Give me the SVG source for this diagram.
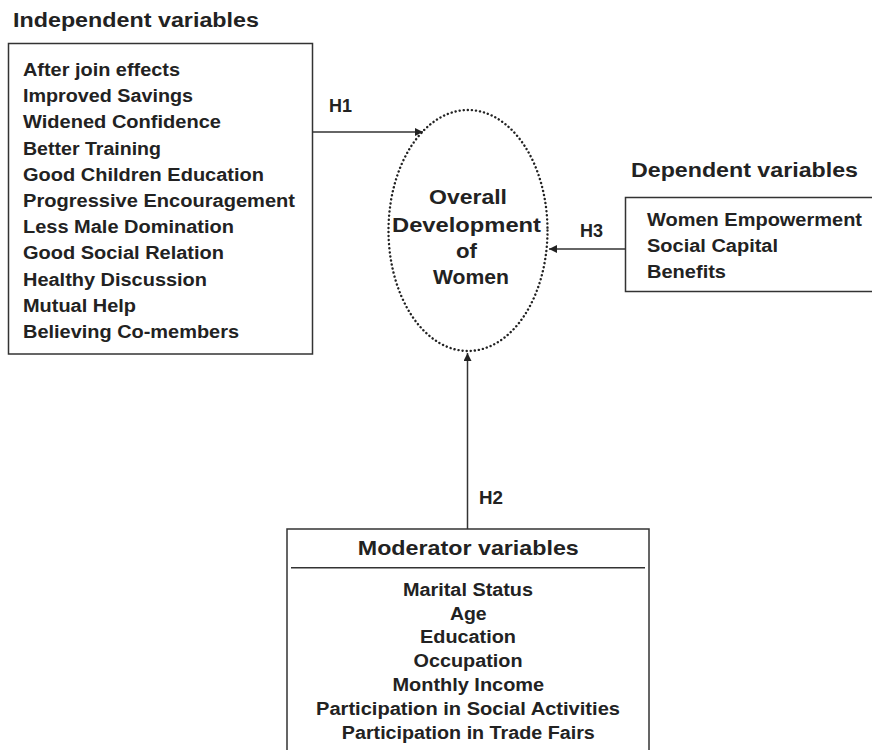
<svg xmlns="http://www.w3.org/2000/svg" width="872" height="750" viewBox="0 0 872 750">
<defs>
<style>
text{font-family:"Liberation Sans",Arial,sans-serif;font-weight:bold;fill:#222}
.t{font-size:19.5px}
.i{font-size:18px}
.c{font-size:21px;text-anchor:middle}
.m{font-size:18px;text-anchor:middle}
.box{fill:#fff;stroke:#333;stroke-width:1.5}
.ln{stroke:#333;stroke-width:1.5;fill:none}
</style>
<marker id="ah" viewBox="0 0 10 10" refX="10" refY="5" markerWidth="8" markerHeight="8" orient="auto" markerUnits="userSpaceOnUse">
<path d="M0,0 L10,5 L0,10 z" fill="#222"/>
</marker>
</defs>
<rect width="872" height="750" fill="#fff"/>
<g id="independent">
<text class="t" x="13" y="27" textLength="246" lengthAdjust="spacingAndGlyphs">Independent variables</text>
<rect class="box" x="8.5" y="43.5" width="304" height="310.5"/>
<text class="i" x="23" y="76" textLength="157" lengthAdjust="spacingAndGlyphs">After join effects</text>
<text class="i" x="23" y="102.2" textLength="170" lengthAdjust="spacingAndGlyphs">Improved Savings</text>
<text class="i" x="23" y="128.4" textLength="198" lengthAdjust="spacingAndGlyphs">Widened Confidence</text>
<text class="i" x="23" y="154.6" textLength="138" lengthAdjust="spacingAndGlyphs">Better Training</text>
<text class="i" x="23" y="180.8" textLength="241" lengthAdjust="spacingAndGlyphs">Good Children Education</text>
<text class="i" x="23" y="207" textLength="272" lengthAdjust="spacingAndGlyphs">Progressive Encouragement</text>
<text class="i" x="23" y="233.2" textLength="211" lengthAdjust="spacingAndGlyphs">Less Male Domination</text>
<text class="i" x="23" y="259.4" textLength="201" lengthAdjust="spacingAndGlyphs">Good Social Relation</text>
<text class="i" x="23" y="285.6" textLength="184" lengthAdjust="spacingAndGlyphs">Healthy Discussion</text>
<text class="i" x="23" y="311.8" textLength="113" lengthAdjust="spacingAndGlyphs">Mutual Help</text>
<text class="i" x="23" y="338" textLength="216" lengthAdjust="spacingAndGlyphs">Believing Co-members</text>
</g>
<g id="center">
<ellipse cx="468" cy="230.5" rx="79.5" ry="120.5" fill="none" stroke="#222" stroke-width="2.4" stroke-dasharray="0.1 4" stroke-linecap="round"/>
<text class="c" x="468" y="204" textLength="78" lengthAdjust="spacingAndGlyphs">Overall</text>
<text class="c" x="466.5" y="231.5" textLength="149" lengthAdjust="spacingAndGlyphs">Development</text>
<text class="c" x="466.5" y="258" textLength="21" lengthAdjust="spacingAndGlyphs">of</text>
<text class="c" x="471" y="284" textLength="76" lengthAdjust="spacingAndGlyphs">Women</text>
</g>
<g id="dependent">
<text class="t" x="631" y="177" textLength="227" lengthAdjust="spacingAndGlyphs">Dependent variables</text>
<rect class="box" x="625.5" y="197.5" width="250" height="94"/>
<text class="i" x="647" y="226" textLength="215" lengthAdjust="spacingAndGlyphs">Women Empowerment</text>
<text class="i" x="647" y="251.7" textLength="131" lengthAdjust="spacingAndGlyphs">Social Capital</text>
<text class="i" x="647" y="277.5" textLength="79" lengthAdjust="spacingAndGlyphs">Benefits</text>
</g>
<g id="moderator">
<rect class="box" x="287" y="529" width="362" height="225"/>
<text class="t" x="468.3" y="555" style="text-anchor:middle;font-size:21px" textLength="221" lengthAdjust="spacingAndGlyphs">Moderator variables</text>
<line class="ln" x1="291" y1="567.7" x2="645" y2="567.7"/>
<text class="m" x="468" y="596" textLength="130" lengthAdjust="spacingAndGlyphs">Marital Status</text>
<text class="m" x="468.3" y="620" textLength="36.7" lengthAdjust="spacingAndGlyphs">Age</text>
<text class="m" x="468" y="643" textLength="96" lengthAdjust="spacingAndGlyphs">Education</text>
<text class="m" x="468" y="667" textLength="109" lengthAdjust="spacingAndGlyphs">Occupation</text>
<text class="m" x="468.3" y="691" textLength="151.7" lengthAdjust="spacingAndGlyphs">Monthly Income</text>
<text class="m" x="468" y="715" textLength="304" lengthAdjust="spacingAndGlyphs">Participation in Social Activities</text>
<text class="m" x="468.3" y="739.3" textLength="253" lengthAdjust="spacingAndGlyphs">Participation in Trade Fairs</text>
</g>
<g id="connectors">
<line class="ln" x1="312.5" y1="132" x2="423" y2="132" marker-end="url(#ah)"/>
<line class="ln" x1="625.5" y1="249" x2="549" y2="249" marker-end="url(#ah)"/>
<line class="ln" x1="467.5" y1="529" x2="467.5" y2="353" marker-end="url(#ah)"/>
<text class="i" x="329" y="112" style="font-size:19px" textLength="23" lengthAdjust="spacingAndGlyphs">H1</text>
<text class="i" x="580" y="236.7" style="font-size:19px" textLength="23" lengthAdjust="spacingAndGlyphs">H3</text>
<text class="i" x="479" y="504" style="font-size:19px" textLength="24" lengthAdjust="spacingAndGlyphs">H2</text>
</g>
</svg>
